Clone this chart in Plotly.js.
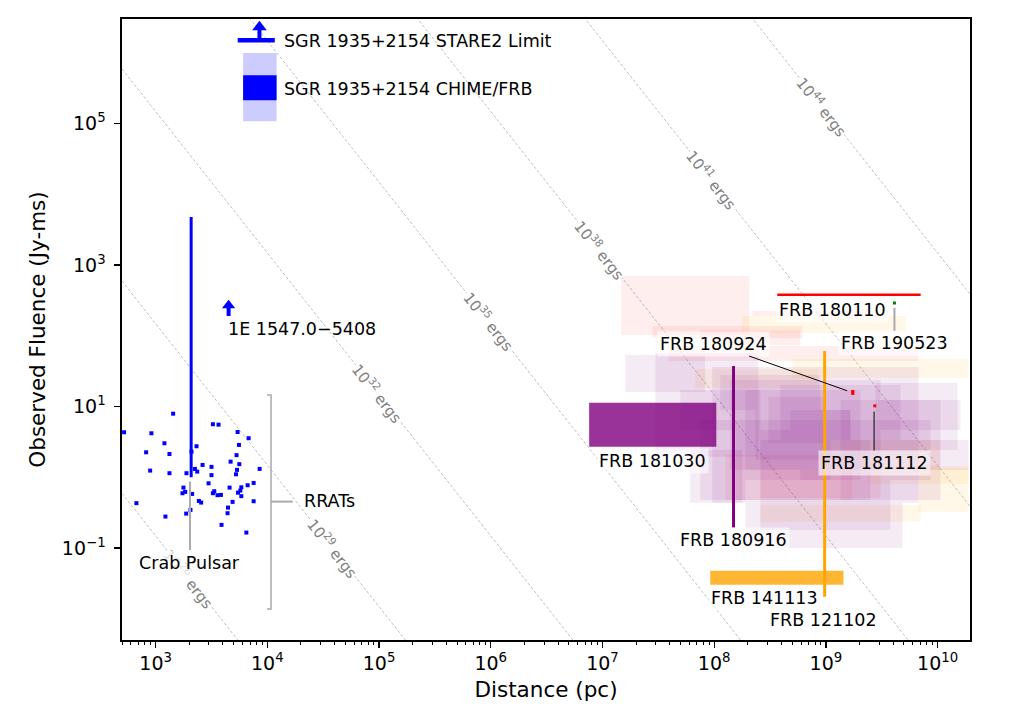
<!DOCTYPE html>
<html><head><meta charset="utf-8">
<script src="https://cdn.plot.ly/plotly-3.0.1.min.js"></script>
<style>html,body{margin:0;padding:0;background:#fff}#chart{width:1022px;height:725px}</style>
</head><body><div id="chart"></div>
<script>
// ================= DATA =================
// RRATs (distance pc, fluence Jy-ms)
const rratDist = [522, 917, 1435, 1199, 822, 1330, 893, 1330, 673, 1224, 1877, 2051, 1888, 1775, 1738, 1840, 2123, 3258, 3657, 2323, 2094, 2249, 2357, 2630, 3164, 3164, 2977, 3347, 3258, 3581, 3843, 4592, 4886, 2438, 2557, 4446, 4406, 3890, 5420, 6800, 5570, 5300, 4690, 5610, 5350, 5240, 8530, 7540, 6660, 5850, 5730, 5460, 5850, 7540, 6490];
const rratFluence = [4.32, 4.18, 7.91, 3.02, 2.25, 2.13, 1.24, 1.14, 0.43, 0.278, 0.306, 0.345, 1.14, 0.713, 0.594, 0.62, 0.58, 5.61, 5.53, 2.74, 2.30, 1.31, 1.20, 1.49, 1.40, 1.07, 0.82, 0.634, 0.594, 0.557, 0.562, 0.713, 0.448, 0.462, 0.438, 0.372, 0.31, 0.212, 4.36, 3.56, 2.86, 2.05, 1.66, 1.53, 1.27, 1.10, 1.31, 0.83, 0.77, 0.72, 0.647, 0.605, 0.54, 0.458, 0.165];

// Crab pulsar (distance, fluence range)
const crabDist = 2080;
const crabFluence = [1.0, 4750];

// 1E 1547.0-5408 lower limit
const e1547Dist = 4500;
const e1547Fluence = 190;

// SGR 1935+2154
const sgrChimeDist = [6070, 12100];
const sgrChimeOuter = [1.08e5, 9.93e5];
const sgrChimeInner = [2.13e5, 4.81e5];
const sgrStareDist = [5430, 11660];
const sgrStareArrowDist = 8500;
const sgrStareFluence = 1.5e6;

// Population of FRBs (distance range x fluence range boxes)
const cloudDmin = [1.47e7, 2.2e8, 2.79e7, 3.88e7, 1.26e8, 2.59e8, 7.5e7, 1.79e8, 6.77e7, 5.0e8, 6.74e9, 2.4e9, 2.59e8, 8.93e8, 1.6e7, 2.97e7, 6.1e7, 9.6e7, 1.39e8, 1.9e8, 3.05e8, 2.34e8, 3.91e8, 2.78e9, 1.9e8, 2.59e8, 7.5e7, 5.9e8, 1.13e8, 1.35e9, 1.55e8, 4.81e8, 1.66e9, 4.97e7, 4.81e8, 2.59e8, 7.5e7, 3.08e9];
const cloudDmax = [2.06e8, 2.95e9, 6.16e8, 6.74e9, 1.73e9, 3.08e9, 5.9e8, 5.16e9, 8.57e8, 1.89e10, 1.89e10, 1.89e10, 7.03e9, 1.06e10, 8.3e7, 2.49e8, 1.79e8, 6.74e9, 3.08e9, 2.04e9, 9.9e8, 1.66e9, 4.65e9, 1.51e10, 4.85e9, 3.78e9, 5.9e8, 8.64e9, 8.93e8, 1.06e10, 4.81e8, 2.5e9, 1.89e10, 2.59e8, 1.66e9, 1.1e9, 1.9e8, 1.6e10];
const cloudFmin = [102, 190, 92.8, 43.9, 0.478, 0.51, 73.9, 109, 18.3, 25.3, 0.324, 0.804, 0.234, 1.27, 16.0, 1.94, 0.434, 0.434, 1.27, 0.916, 3.05, 1.76, 3.36, 2.43, 0.1, 0.18, 1.27, 0.916, 8.93, 0.478, 0.478, 0.478, 1.27, 4.66, 3.36, 0.916, 0.478, 4.66];
const cloudFmax = [697, 223, 137, 71.5, 2.07, 1.27, 120, 190, 33.9, 46.9, 1.35, 1.44, 0.406, 3.36, 53.4, 57.0, 2.43, 36.1, 23.7, 17.1, 13.6, 8.93, 20.1, 21.5, 0.434, 0.916, 6.45, 6.45, 27.9, 12.35, 4.66, 3.36, 3.36, 17.1, 8.93, 3.36, 1.27, 12.35];
const cloudKind = ['red','red','red','red','red','red','red','orange','orange','orange','orange','orange','orange','orange','purple','purple','purple','purple','purple','purple','purple','purple','purple','purple','purple','purple','purple','purple','purple','purple','purple','purple','purple','purple','purple','purple','purple','purple'];

// Named FRBs
const frb181030 = {dist: [7.6e6, 1.045e8], fluence: [2.70, 11.3]};
const frb141113 = {dist: [9.22e7, 1.436e9], fluence: [0.0301, 0.0475]};
const frb180916 = {dist: 1.49e8, fluence: [0.194, 37.3]};
const frb121102 = {dist: 9.75e8, fluence: [0.0204, 60.8]};
const frb180110 = {dist: [3.67e8, 7.05e9], fluence: 379};
const frb190523 = {dist: 4.11e9, fluence: 290};
const frb180924 = {dist: 1.74e9, fluence: [14.6, 17.1]};
const frb181112 = {dist: 2.74e9, fluence: 10.2};

// Constant-energy lines
const energyExp = [26, 29, 32, 35, 38, 41, 44];
const energyLabelDist = [2000, 3.85e4, 9.7e4, 9.6e5, 9.5e6, 9.6e7, 9.3e8];
const energyConst = 20.83; // log10(E[erg]) = 2 log10(d[pc]) + log10(F[Jy ms]) + const

// Axis ticks
const xTickVals = [1e3, 1e4, 1e5, 1e6, 1e7, 1e8, 1e9, 1e10];
const xTickText = ['10<sup>3</sup>','10<sup>4</sup>','10<sup>5</sup>','10<sup>6</sup>','10<sup>7</sup>','10<sup>8</sup>','10<sup>9</sup>','10<sup>10</sup>'];
const yTickVals = [0.1, 10, 1e3, 1e5];
const yTickText = ['10<sup>\u22121</sup>','10<sup>1</sup>','10<sup>3</sup>','10<sup>5</sup>'];

// ================= BUILD =================
const L = Math.log10;
const FONT = 'DejaVu Sans, Liberation Sans, sans-serif';
const traces = [];
const xRange = [L(500), L(1.95e10)];
const yRange = [L(5e-3), L(3e6)];

// energy lines
energyExp.forEach(E => {
  const d = [300, 3e10];
  traces.push({x: d, y: d.map(v => Math.pow(10, E - energyConst - 2*L(v))), mode:'lines',
    line:{color:'#b8b8b8', width:0.9, dash:'3px,2px'}, hoverinfo:'skip'});
});

function rect(x0,x1,y0,y1,fill){
  return {x:[x0,x1,x1,x0,x0], y:[y0,y0,y1,y1,y0], mode:'lines', fill:'toself',
    fillcolor:fill, line:{width:0}, hoverinfo:'skip'};
}
const kindColor = {red:'rgba(255,0,0,0.065)', orange:'rgba(255,165,0,0.09)', purple:'rgba(128,0,128,0.08)'};
for (let i=0;i<cloudDmin.length;i++){
  traces.push(rect(cloudDmin[i], cloudDmax[i], cloudFmin[i], cloudFmax[i], kindColor[cloudKind[i]]));
}

// named FRBs
traces.push(rect(frb181030.dist[0], frb181030.dist[1], frb181030.fluence[0], frb181030.fluence[1], 'rgba(128,0,128,0.8)'));
traces.push(rect(frb141113.dist[0], frb141113.dist[1], frb141113.fluence[0], frb141113.fluence[1], 'rgba(255,165,0,0.8)'));
traces.push({x:[frb180916.dist, frb180916.dist], y:frb180916.fluence, mode:'lines', line:{color:'purple', width:3}, hoverinfo:'skip'});
traces.push({x:[frb121102.dist, frb121102.dist], y:frb121102.fluence, mode:'lines', line:{color:'orange', width:3}, hoverinfo:'skip'});
traces.push({x:frb180110.dist, y:[frb180110.fluence, frb180110.fluence], mode:'lines', line:{color:'red', width:2.5}, hoverinfo:'skip'});
traces.push({x:[frb180924.dist, frb180924.dist], y:frb180924.fluence, mode:'lines', line:{color:'red', width:3.3}, hoverinfo:'skip'});
traces.push({x:[frb181112.dist], y:[frb181112.fluence], mode:'markers', marker:{symbol:'square', color:'red', size:3, line:{width:0}}, hoverinfo:'skip'});
traces.push({x:[frb190523.dist], y:[frb190523.fluence], mode:'markers', marker:{symbol:'square', color:'green', size:3, line:{width:0}}, hoverinfo:'skip'});

// RRATs
traces.push({x:rratDist, y:rratFluence, mode:'markers', marker:{symbol:'square', color:'blue', size:4, line:{width:0}}, hoverinfo:'skip'});
// Crab
traces.push({x:[crabDist, crabDist], y:crabFluence, mode:'lines', line:{color:'blue', width:3}, hoverinfo:'skip'});
// RRAT bracket
const brk = {x0: 9930, x1: 10790, x2: 16870, ytop: 14.5, ybot: 0.01368, ymid: 0.452};
traces.push({x:[brk.x0, brk.x1, brk.x1, brk.x0], y:[brk.ytop, brk.ytop, brk.ybot, brk.ybot], mode:'lines', line:{color:'#aaaaaa', width:1.5}, hoverinfo:'skip'});
traces.push({x:[brk.x1, brk.x2], y:[brk.ymid, brk.ymid], mode:'lines', line:{color:'#aaaaaa', width:2}, hoverinfo:'skip'});

// 1E 1547 lower limit arrow
traces.push({x:[e1547Dist, e1547Dist], y:[e1547Fluence, e1547Fluence*Math.pow(10,0.12)], mode:'lines', line:{color:'blue', width:4}, hoverinfo:'skip'});
traces.push({x:[e1547Dist], y:[e1547Fluence*Math.pow(10,0.15)], mode:'markers', marker:{symbol:'triangle-up', color:'blue', size:11.5, line:{width:0}}, hoverinfo:'skip'});

// SGR CHIME boxes
traces.push(rect(sgrChimeDist[0], sgrChimeDist[1], sgrChimeOuter[0], sgrChimeOuter[1], 'rgba(0,0,255,0.2)'));
traces.push(rect(sgrChimeDist[0], sgrChimeDist[1], sgrChimeInner[0], sgrChimeInner[1], 'rgba(0,0,255,1)'));
// STARE2 limit
traces.push({x:sgrStareDist, y:[sgrStareFluence, sgrStareFluence], mode:'lines', line:{color:'blue', width:4.5}, hoverinfo:'skip'});
traces.push({x:[sgrStareArrowDist, sgrStareArrowDist], y:[sgrStareFluence, sgrStareFluence*Math.pow(10,0.145)], mode:'lines', line:{color:'blue', width:4}, hoverinfo:'skip'});
traces.push({x:[sgrStareArrowDist], y:[sgrStareFluence*Math.pow(10,0.187)], mode:'markers', marker:{symbol:'triangle-up', color:'blue', size:12.7, line:{width:0}}, hoverinfo:'skip'});

// ================= ANNOTATIONS =================
const ann = [];
energyExp.forEach((E,i) => {
  const d = energyLabelDist[i];
  ann.push({x:L(d), y:E - energyConst - 2*L(d), xref:'x', yref:'y', text:'10<sup>'+E+'</sup> ergs',
    showarrow:false, textangle:51.8, font:{family:FONT, size:15, color:'#808080'}, bgcolor:'#ffffff', borderpad:0});
});
function label(text, d, f, opts){
  return Object.assign({x:L(d), y:L(f), xref:'x', yref:'y', text:text, showarrow:false,
    font:{family:FONT, size:17.5, color:'black'}, xanchor:'center', yanchor:'middle'}, opts||{});
}
function pointer(text, pd, pf, td, tf, color, width, bg){
  return {x:L(pd), y:L(pf), ax:L(td), ay:L(tf), xref:'x', yref:'y', axref:'x', ayref:'y', text:text,
    showarrow:true, arrowhead:0, arrowwidth:width, arrowcolor:color, standoff:0,
    font:{family:FONT, size:17.5, color:'black'}, bgcolor:bg, borderpad:2};
}
const BG = 'rgba(255,255,255,0.6)';
ann.push(label('SGR 1935+2154 STARE2 Limit', 13400, 1.45e6, {xanchor:'left'}));
ann.push(label('SGR 1935+2154 CHIME/FRB', 13400, 3.05e5, {xanchor:'left'}));
ann.push(label('1E 1547.0\u22125408', 4300, 124, {xanchor:'left'}));
ann.push(label('RRATs', 20250, 0.468, {xanchor:'left'}));
ann.push(pointer('Crab Pulsar', 2030, 0.867, 2030, 0.0622, '#aaaaaa', 2, 'rgba(255,255,255,0.75)'));
ann.push(label('FRB 181030', 2.8e7, 1.67, {bgcolor:BG, borderpad:2}));
ann.push(label('FRB 180916', 1.476e8, 0.128, {bgcolor:BG, borderpad:2}));
ann.push(label('FRB 141113', 2.84e8, 0.0197, {bgcolor:BG, borderpad:2}));
ann.push(label('FRB 121102', 9.55e8, 0.0095, {bgcolor:BG, borderpad:2}));
ann.push(label('FRB 180110', 1.15e9, 231, {bgcolor:BG, borderpad:2}));
ann.push(pointer('FRB 180924', 1.55e9, 16.7, 9.9e7, 77.6, 'black', 1, BG));
ann.push(pointer('FRB 181112', 2.7e9, 8.45, 2.7e9, 1.59, 'black', 1, BG));
ann.push(pointer('FRB 190523', 4.11e9, 248, 4.11e9, 78.2, '#aaaaaa', 2, BG));

// minor ticks
const minorVals = [];
for (let e=2;e<=10;e++) for (let k=2;k<=9;k++) minorVals.push(k*Math.pow(10,e));

const layout = {
  width:1022, height:725,
  margin:{l:122, r:52, t:19, b:85},
  paper_bgcolor:'white', plot_bgcolor:'white',
  showlegend:false,
  font:{family:FONT, color:'black'},
  xaxis:{type:'log', range:xRange, showgrid:false, zeroline:false,
    showline:true, mirror:true, linecolor:'black', linewidth:1.6,
    ticks:'outside', ticklen:6, tickwidth:1.3, tickcolor:'black',
    tickmode:'array', tickvals:xTickVals, ticktext:xTickText, tickfont:{family:FONT, size:19},
    minor:{tickmode:'array', tickvals:minorVals, ticks:'outside', ticklen:3.5, tickwidth:1, tickcolor:'black', showgrid:false},
    title:{text:'Distance (pc)', font:{family:FONT, size:21.5}, standoff:8}},
  yaxis:{type:'log', range:yRange, showgrid:false, zeroline:false,
    showline:true, mirror:true, linecolor:'black', linewidth:1.6,
    ticks:'outside', ticklen:6, tickwidth:1.3, tickcolor:'black', ticklabelstandoff:5,
    tickmode:'array', tickvals:yTickVals, ticktext:yTickText, tickfont:{family:FONT, size:19},
    title:{text:'Observed Fluence (Jy-ms)', font:{family:FONT, size:21.5}, standoff:10}},
  annotations: ann
};
Plotly.newPlot('chart', traces, layout, {displayModeBar:false, staticPlot:true});
</script>
</body></html>
